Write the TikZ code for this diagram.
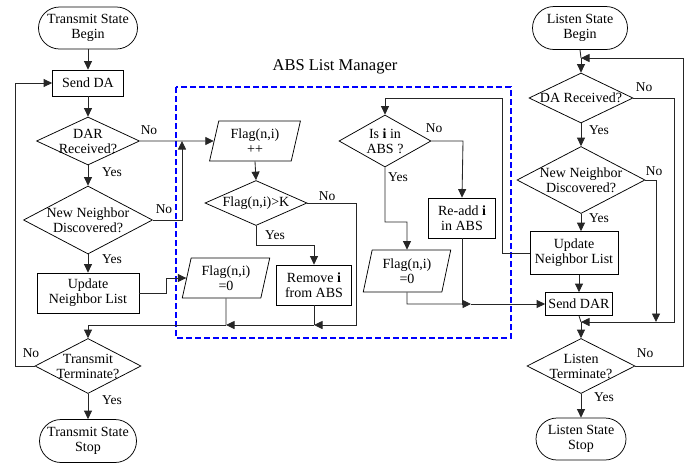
\documentclass[tikz,border=0pt]{standalone}
\usepackage{fontspec}
\setmainfont{Liberation Serif}
\usetikzlibrary{shapes.geometric,shapes.misc,arrows.meta}
\begin{document}
\begin{tikzpicture}[x=1pt,y=-1pt,
  every node/.style={font=\fontsize{14}{15}\selectfont, align=center, inner sep=0pt},
  term/.style={draw, line width=0.75pt, rounded rectangle},
  proc/.style={draw, line width=0.75pt, rectangle},
  dec/.style={draw, line width=0.75pt, diamond},
  io/.style={draw, line width=0.75pt, trapezium, trapezium left angle=76, trapezium right angle=104, trapezium stretches=true},
  conn/.style={draw=black!85, line width=0.85pt},
  arr/.style={conn, -{Triangle[length=8.5pt,width=8pt]}},
  lbl/.style={font=\fontsize{13.5}{14}\selectfont}
]
\useasboundingbox (0,0) rectangle (699,464);

% ABS box
\draw[blue, line width=1.1pt, dash pattern=on 6pt off 3pt] (176,87) rectangle (511,338);
\node[font=\fontsize{16.5}{17}\selectfont] (title) at (335,67) {ABS List Manager};

% Transmit column
\node[term, minimum width=99, minimum height=42] (tb) at (88,28) {Transmit State\\Begin};
\node[proc, minimum width=71, minimum height=26] (sda) at (88,83) {Send DA};
\node[dec, minimum width=103, minimum height=48, label={center:{DAR\\Received?}}] (dar) at (88,141) {};
\node[dec, minimum width=129, minimum height=68, label={center:{New Neighbor\\Discovered?}}] (nnd) at (88,220) {};
\node[proc, minimum width=102, minimum height=40] (unl) at (88,293) {Update\\Neighbor List};
\node[dec, minimum width=106, minimum height=55, label={center:{Transmit\\Terminate?}}] (tt) at (88,366) {};
\node[term, minimum width=97, minimum height=43] (ts) at (88,441) {Transmit State\\Stop};

% ABS nodes
\node[io, minimum width=91, minimum height=40] (fpp) at (255,141) {Flag(n,i)\\++};
\node[dec, minimum width=102, minimum height=45, label={center:{Flag(n,i)>K}}] (fk) at (256,203) {};
\node[proc, minimum width=75, minimum height=40] (rem) at (314,285) {Remove \textbf{i}\\from ABS};
\node[io, minimum width=88, minimum height=40] (f0a) at (226,278) {Flag(n,i)\\=0};
\node[dec, minimum width=92, minimum height=52, label={center:{Is \textbf{i} in\\ABS ?}}] (isi) at (385,141) {};
\node[proc, minimum width=67, minimum height=40] (readd) at (462,218) {Re-add \textbf{i}\\in ABS};
\node[io, minimum width=88, minimum height=42] (f0b) at (407,271) {Flag(n,i)\\=0};

% Listen column
\node[term, minimum width=95, minimum height=43] (lb) at (580,28) {Listen State\\Begin};
\node[dec, minimum width=104, minimum height=50, label={center:{DA Received?}}] (dar2) at (581,98) {};
\node[dec, minimum width=128, minimum height=67, label={center:{New Neighbor\\Discovered?}}] (nn2) at (581,180) {};
\node[proc, minimum width=88, minimum height=43] (unl2) at (574,253) {Update\\Neighbor List};
\node[proc, minimum width=67, minimum height=23] (sdar) at (579,304) {Send DAR};
\node[dec, minimum width=108, minimum height=55, label={center:{Listen\\Terminate?}}] (lt) at (581,366) {};
\node[term, minimum width=90, minimum height=42] (ls) at (581,439) {Listen State\\Stop};

% helper coordinates
\coordinate (j1) at (182,141);
\coordinate (j2) at (166,293);
\coordinate (j3) at (314,245);
\coordinate (j4) at (356,203);
\coordinate (j5) at (356,325);
\coordinate (j6) at (314,325);
\coordinate (j7) at (226,325);
\coordinate (j8) at (88,325);
\coordinate (k1) at (463,141);
\coordinate (k2) at (385,222);
\coordinate (k3) at (407,222);
\coordinate (k4) at (407,304);
\coordinate (k5) at (462,304);
\coordinate (k6) at (471,304);
\coordinate (m1) at (502,253);
\coordinate (m2) at (502,98);
\coordinate (m3) at (385,98);
\coordinate (n1) at (674,98);
\coordinate (n2) at (674,322);
\coordinate (n3) at (581,322);
\coordinate (n4) at (656,180);
\coordinate (n5) at (656,322);
\coordinate (n6) at (683,366);
\coordinate (n7) at (683,58);
\coordinate (n8) at (581,58);
\coordinate (t1) at (15,366);
\coordinate (t2) at (15,83);

% Transmit connectors
\draw[arr] (tb.south) -- (sda.north);
\draw[arr] (sda.south) -- (dar.north);
\draw[arr] (dar.south) -- (nnd.north);
\draw[arr] (nnd.south) -- (unl.north);
\draw[arr] (dar.east) -- (fpp.west);
\draw[arr] (nnd.east) -| (j1);
\draw[arr] (unl.east) -- (j2) |- (f0a.west);
\draw[arr] (tt.south) -- (ts.north);
\draw[arr] (tt.west) -- (t1) -- (t2) -- (sda.west);

% ABS connectors
\draw[arr] (fpp.south) -- (fk.north);
\draw[arr] (fk.south) |- (j3) -- (rem.north);
\draw[arr] (fk.east) -- (j4) -- (j5) -- (j6);
\draw[conn] (rem.south) -- (j6);
\draw[arr] (j6) -- (j7);
\draw[conn] (f0a.south) -- (j7);
\draw[arr] (j7) -- (j8) -- (tt.north);
\draw[arr] (isi.east) -- (k1) -- (readd.north);
\draw[arr] (isi.south) -- (k2) -- (k3) -- (f0b.north);
\draw[conn] (f0b.south) -- (k4) -- (k5);
\draw[conn] (readd.south) -- (k5);
\draw[arr] (k5) -- (k6);
\draw[arr] (k6) -- (sdar.west);
\draw[arr] (unl2.west) -- (m1) -- (m2) -- (m3) -- (isi.north);

% Listen connectors
\draw[conn] (lb.south) -- (n8);
\draw[arr] (n8) -- (dar2.north);
\draw[arr] (dar2.south) -- (nn2.north);
\draw[arr] (nn2.south) -- (nn2.south |- unl2.north);
\draw[arr] (unl2.south -| sdar.north) -- (sdar.north);
\draw[conn] (sdar.south) -- (n3);
\draw[arr] (n3) -- (lt.north);
\draw[arr] (dar2.east) -- (n1) -- (n2) -- (n3);
\draw[arr] (nn2.east) -- (n4) -- (n5);
\draw[arr] (lt.east) -- (n6) -- (n7) -- (n8);
\draw[arr] (lt.south) -- (ls.north);

% Labels
\node[lbl] (l1) at (149,130) {No};
\node[lbl] (l2) at (112,172) {Yes};
\node[lbl] (l3) at (164,209) {No};
\node[lbl] (l4) at (112,259) {Yes};
\node[lbl] (l5) at (31,353) {No};
\node[lbl] (l6) at (112,400) {Yes};
\node[lbl] (l7) at (327,196) {No};
\node[lbl] (l8) at (275,235) {Yes};
\node[lbl] (l9) at (434,128) {No};
\node[lbl] (l10) at (398,177) {Yes};
\node[lbl] (l11) at (644,87) {No};
\node[lbl] (l12) at (599,130) {Yes};
\node[lbl] (l13) at (654,171) {No};
\node[lbl] (l14) at (599,218) {Yes};
\node[lbl] (l15) at (645,353) {No};
\node[lbl] (l16) at (604,397) {Yes};
\end{tikzpicture}
\end{document}
